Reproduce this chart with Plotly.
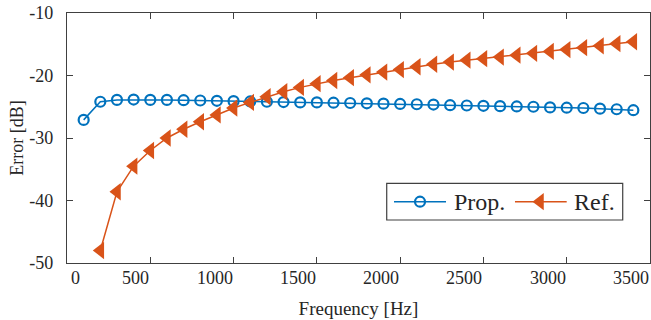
import plotly.graph_objects as go

# ---- data ----
prop_freq = [100, 200, 300, 400, 500, 600, 700, 800, 900, 1000,
             1100, 1200, 1300, 1400, 1500, 1600, 1700, 1800, 1900, 2000,
             2100, 2200, 2300, 2400, 2500, 2600, 2700, 2800, 2900, 3000,
             3100, 3200, 3300, 3400]
prop_db = [-27.1, -24.2, -23.9, -23.85, -23.9, -23.9, -23.95, -24.0, -24.05, -24.1,
           -24.15, -24.2, -24.25, -24.3, -24.3, -24.35, -24.4, -24.45, -24.5, -24.55,
           -24.6, -24.65, -24.75, -24.8, -24.85, -24.9, -24.95, -25.0, -25.1, -25.15,
           -25.2, -25.3, -25.4, -25.55]

ref_freq = [200, 300, 400, 500, 600, 700, 800, 900, 1000,
            1100, 1200, 1300, 1400, 1500, 1600, 1700, 1800, 1900, 2000,
            2100, 2200, 2300, 2400, 2500, 2600, 2700, 2800, 2900, 3000,
            3100, 3200, 3300, 3400]
ref_db = [-48.0, -38.6, -34.5, -32.0, -30.0, -28.6, -27.4, -26.3, -25.2,
          -24.3, -23.4, -22.6, -21.9, -21.3, -20.8, -20.35, -19.9, -19.45, -19.05,
          -18.6, -18.2, -17.85, -17.55, -17.3, -17.05, -16.75, -16.45, -16.15, -15.85,
          -15.55, -15.25, -14.9, -14.6]

series_names = ["Prop.", "Ref."]

x_ticks = [0, 500, 1000, 1500, 2000, 2500, 3000, 3500]
x_tick_labels = ["0", "500", "1000", "1500", "2000", "2500", "3000", "3500"]
y_ticks = [-50, -40, -30, -20, -10]
y_tick_labels = ["-50", "-40", "-30", "-20", "-10"]

BLUE = "#0072BD"
RED = "#D95319"
AXC = "#404040"
TXT = "#262626"
FONT = "Liberation Serif, Times New Roman, serif"

blue_marker = dict(symbol="circle-open", size=10, color=BLUE, line=dict(width=2.2, color=BLUE))
red_marker = dict(symbol="triangle-left", size=15, color=RED, line=dict(width=0))

fig = go.Figure()
fig.add_trace(go.Scatter(
    x=prop_freq, y=prop_db, name=series_names[0], mode="lines+markers",
    line=dict(color=BLUE, width=1.5), marker=blue_marker, showlegend=False,
))
fig.add_trace(go.Scatter(
    x=ref_freq, y=ref_db, name=series_names[1], mode="lines+markers",
    line=dict(color=RED, width=1.5), marker=red_marker, showlegend=False,
))

# ---- legend (drawn in a 0..1 overlay frame over the plot area) ----
LG_BOX = (0.5484, 0.9532, 0.172, 0.3188)  # x0, x1, y0, y1
LG_Y = 0.2452
LG_ITEMS = [  # line start, line end, marker x, text x
    (0.5609, 0.6501, 0.6055, 0.6599),
    (0.7684, 0.8571, 0.8113, 0.8657),
]
shapes = [dict(type="rect", xref="x2", yref="y2", x0=LG_BOX[0], x1=LG_BOX[1],
               y0=LG_BOX[2], y1=LG_BOX[3], line=dict(color=AXC, width=1.2),
               fillcolor="white", layer="below")]
annots = []
for (l0, l1, mx, tx), name, col, mk in zip(LG_ITEMS, series_names, [BLUE, RED],
                                            [blue_marker, red_marker]):
    fig.add_trace(go.Scatter(x=[l0, l1], y=[LG_Y, LG_Y], xaxis="x2", yaxis="y2",
                             mode="lines", line=dict(color=col, width=1.5),
                             showlegend=False, hoverinfo="skip"))
    fig.add_trace(go.Scatter(x=[mx], y=[LG_Y], xaxis="x2", yaxis="y2",
                             mode="markers", marker=mk,
                             showlegend=False, hoverinfo="skip"))
    annots.append(dict(x=tx, y=LG_Y, xref="x2", yref="y2", text=name, showarrow=False,
                       xanchor="left", yanchor="middle",
                       font=dict(family=FONT, size=24, color=TXT)))

# x tick labels (as in the reference they sit left of their ticks)
for v, t in zip(x_ticks, x_tick_labels):
    first = (v == x_ticks[0])
    annots.append(dict(x=v, y=0, xref="x", yref="paper", text=t, showarrow=False,
                       xanchor="left" if first else "right", yanchor="top",
                       xshift=2 if first else 1, yshift=-3,
                       font=dict(family=FONT, size=18, color=TXT)))

fig.update_layout(
    width=651, height=320,
    margin=dict(l=67, r=1, t=13, b=57),
    paper_bgcolor="white", plot_bgcolor="white",
    font=dict(family=FONT, size=18, color=TXT),
    showlegend=False,
    annotations=annots,
    shapes=shapes,
    xaxis=dict(range=[0, 3500], tickvals=x_ticks, showticklabels=False,
               ticks="inside", ticklen=6, tickcolor=AXC, tickwidth=1,
               showline=True, linecolor=AXC, linewidth=1.2, mirror="allticks",
               showgrid=False, zeroline=False,
               title=dict(text="Frequency [Hz]", standoff=38,
                          font=dict(family=FONT, size=19, color=TXT))),
    yaxis=dict(range=[-50, -10], tickvals=y_ticks, ticktext=y_tick_labels,
               ticks="inside", ticklen=6, tickcolor=AXC, tickwidth=1,
               showline=True, linecolor=AXC, linewidth=1.2, mirror="allticks",
               showgrid=False, zeroline=False, ticklabelstandoff=9,
               tickfont=dict(family=FONT, size=18, color=TXT),
               title=dict(text="Error [dB]", standoff=0,
                          font=dict(family=FONT, size=18, color=TXT))),
    xaxis2=dict(range=[0, 1], overlaying="x", visible=False, fixedrange=True),
    yaxis2=dict(range=[0, 1], overlaying="y", visible=False, fixedrange=True),
)

fig.write_html("out.html", config={"displayModeBar": False},
               post_script="document.body.style.margin='0';document.body.style.padding='0';")
